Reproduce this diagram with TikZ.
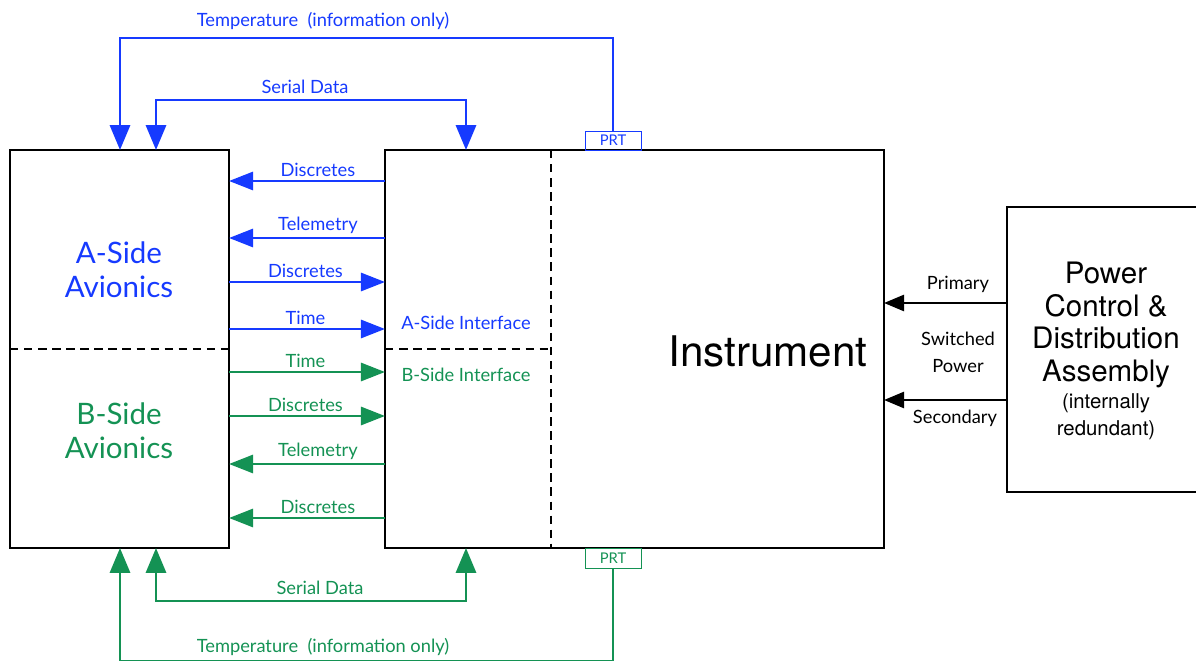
\documentclass[tikz,border=0pt]{standalone}
\usepackage{fontspec}
\setsansfont{Lato}
\newfontfamily\helv{TeX Gyre Heros}
\usetikzlibrary{arrows.meta,fit}
\definecolor{aside}{RGB}{22,58,255}
\definecolor{bside}{RGB}{20,146,84}

\begin{document}
\begin{tikzpicture}[x=0.025cm,y=-0.025cm,font=\sffamily\fontsize{13}{15}\selectfont,
    box/.style={draw,line width=1.6pt,inner sep=0pt,outer sep=0pt},
    divider/.style={line width=1.5pt,dash pattern=on 6pt off 4pt},
    sig/.style={draw=#1,line width=2pt,-{Triangle[length=0.6cm,width=0.45cm]}},
    bus/.style={draw=#1,line width=2pt,{Triangle[length=0.62cm,width=0.5cm]}-{Triangle[length=0.62cm,width=0.5cm]}},
    temp/.style={draw=#1,line width=2pt,-{Triangle[length=0.62cm,width=0.5cm]}},
    pwr/.style={draw,line width=1.8pt,-{Triangle[length=0.5cm,width=0.4cm]}},
    lab/.style={text=#1,above,inner sep=2pt},
    prt/.style={draw=#1,line width=0.6pt,inner sep=0pt,outer sep=0pt,
        label={[text=#1,font=\sffamily\fontsize{10.5}{12}\selectfont]center:PRT}},
    side/.style={text=#1,align=center,font=\sffamily\fontsize{21}{24}\selectfont}]
    \useasboundingbox (0,0) rectangle (1196,661);
    \coordinate (a1) at (10,150);   \coordinate (a2) at (229,548);
    \coordinate (i1) at (385,150);  \coordinate (i2) at (884,548);
    \coordinate (w1) at (1007,207); \coordinate (w2) at (1205,492);
    \coordinate (p1) at (585,131);  \coordinate (p2) at (641,150);
    \coordinate (q1) at (585,548);  \coordinate (q2) at (641,568);
    \node[box,fit=(a1)(a2)] (av) {};
    \node[box,fit=(i1)(i2)] (iface) {};
    \node[box,fit=(w1)(w2)] (pcda) {};
    \node[prt=aside,fit=(p1)(p2)] (prtA) {};
    \node[prt=bside,fit=(q1)(q2)] (prtB) {};
    \draw[divider] (av.west) -- (av.east);
    \draw[divider] (iface.west) -- (551,349);
    \draw[divider] (iface.north -| 551,0) -- (iface.south -| 551,0);
    \node[side=aside] (atxt) at (119,270) {A-Side\\Avionics};
    \node[side=bside] (btxt) at (119,431) {B-Side\\Avionics};
    \node[text=aside] (aif) at (466,323) {A-Side Interface};
    \node[text=bside] (bif) at (466,375) {B-Side Interface};
    \node[font=\helv\fontsize{30}{34}\selectfont] (inst) at (768,351) {Instrument};
    \node[font=\helv\fontsize{21}{23.4}\selectfont,align=center] (pbig) at (1106,325) {Power\\Control \&\\Distribution\\Assembly};
    \node[font=\helv\fontsize{14.5}{19}\selectfont,align=center] (psmall) at (1106,417) {(internally\\redundant)};
    \foreach \yy/\lab/\col in {181/Discretes/aside,238/Telemetry/aside,464/Telemetry/bside,518/Discretes/bside}
        \draw[sig=\col] (iface.west |- 0,\yy) -- (av.east |- 0,\yy) node[lab=\col,pos=.43] {\lab};
    \foreach \yy/\lab/\col in {282/Discretes/aside,329/Time/aside,372/Time/bside,416/Discretes/bside}
        \draw[sig=\col] (av.east |- 0,\yy) -- (iface.west |- 0,\yy) node[lab=\col,pos=.49] {\lab};
    \coordinate (sA1) at (156,100); \coordinate (sA2) at (466,100);
    \coordinate (sB1) at (156,601); \coordinate (sB2) at (466,601);
    \coordinate (tA) at (120,38);   \coordinate (tB) at (120,661);
    \draw[bus=aside] (av.north -| sA1) -- (sA1) -- (sA2) -- (iface.north -| sA2);
    \draw[bus=bside] (av.south -| sB1) -- (sB1) -- (sB2) -- (iface.south -| sB2);
    \draw[temp=aside] (prtA.north) |- (tA) -- (av.north -| tA);
    \draw[temp=bside] (prtB.south) |- (tB) -- (av.south -| tB);
    \node[text=aside] (sAlab) at (305,87) {Serial Data};
    \node[text=bside] (sBlab) at (320,588) {Serial Data};
    \node[text=aside] (tAlab) at (323,21) {Temperature~~(information only)};
    \node[text=bside] (tBlab) at (323,647) {Temperature~~(information only)};
    \draw[pwr] (pcda.west |- 0,303) -- (iface.east |- 0,303);
    \draw[pwr] (pcda.west |- 0,400) -- (iface.east |- 0,400);
    \node (prim) at (958,284) {Primary};
    \node[align=center,font=\sffamily\fontsize{13}{19}\selectfont] (swp) at (958,352) {Switched\\Power};
    \node (sec) at (955,418) {Secondary};
\end{tikzpicture}
\end{document}
